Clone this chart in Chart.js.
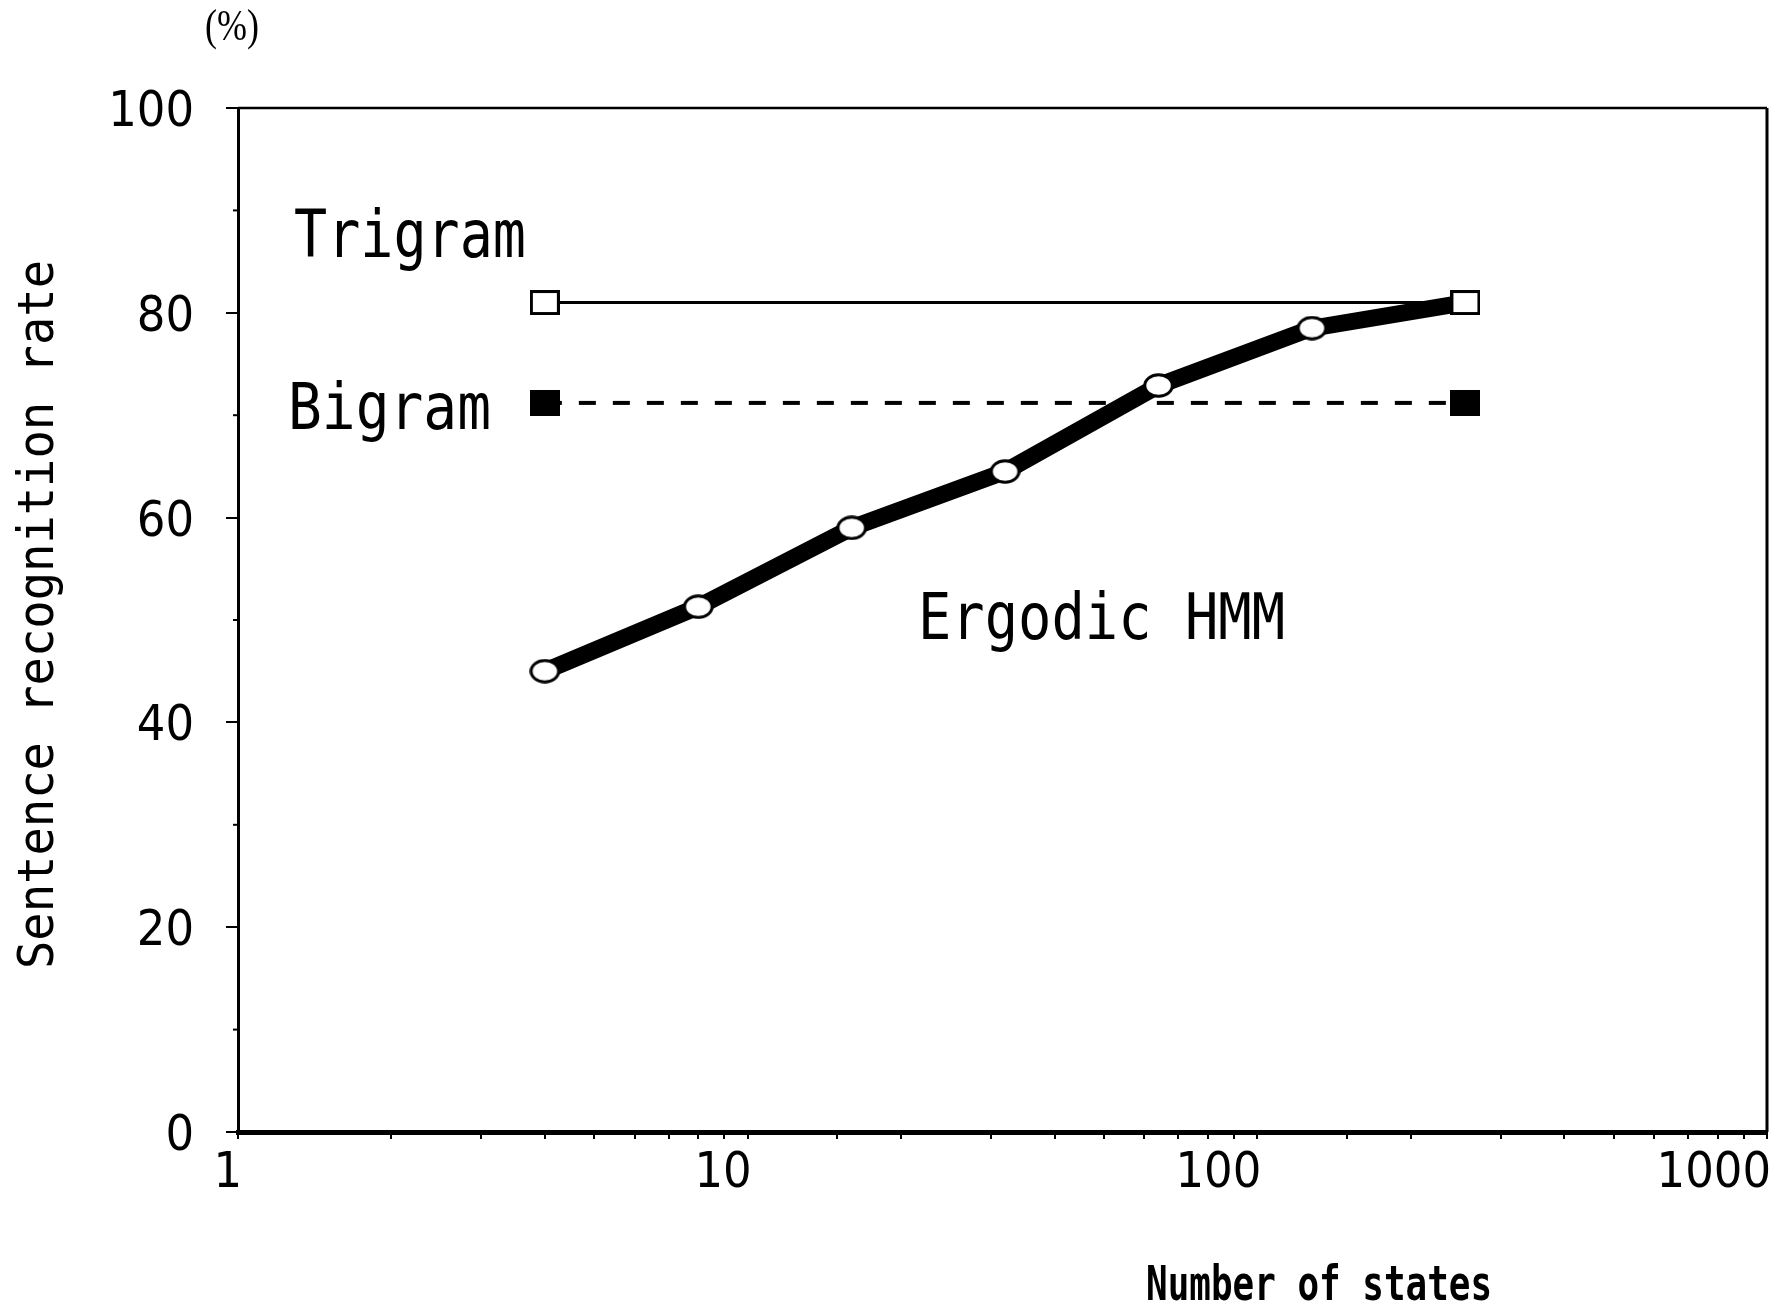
<!DOCTYPE html>
<html>
<head>
<meta charset="utf-8">
<title>Sentence recognition rate vs number of states</title>
<script src="https://cdn.jsdelivr.net/npm/chart.js@4.4.0/dist/chart.umd.min.js"></script>
<style>
  html, body { margin: 0; padding: 0; background: #fff; }
  #wrap { width: 1788px; height: 1305px; }
</style>
</head>
<body>
<div id="wrap"><canvas id="chart" width="1788" height="1305"></canvas></div>
<script>
// data
const states = [4, 8, 16, 32, 64, 128, 256];
const ergodicHmm = [45.0, 51.3, 59.0, 64.5, 72.9, 78.5, 81.0];
const ngramStates = [4, 256];
const trigram = [81.0, 81.0];
const bigram = [71.2, 71.2];
const yTicks = [0, 20, 40, 60, 80, 100];
const xTickLabels = [1, 10, 100, 1000];

const tickFont = "'DejaVu Sans Condensed', 'Liberation Sans Narrow', sans-serif";
const monoFont = "'DejaVu Sans Mono', monospace";

// markers in the original are a little wider than tall, so build them as images
function makeMarker(w, h, draw) {
  const c = document.createElement('canvas');
  c.width = w;
  c.height = h;
  draw(c.getContext('2d'), w, h);
  return c;
}
const openSquare = makeMarker(30, 25, (g, w, h) => {
  g.fillStyle = '#fff';
  g.fillRect(0, 0, w, h);
  g.strokeStyle = '#000';
  g.lineWidth = 3;
  g.strokeRect(1.5, 1.5, w - 3, h - 3);
});
const filledSquare = makeMarker(30, 26, (g, w, h) => {
  g.fillStyle = '#000';
  g.fillRect(0, 0, w, h);
});
const openEllipse = makeMarker(31, 25, (g, w, h) => {
  g.beginPath();
  g.ellipse(w / 2, h / 2, w / 2 - 1.75, h / 2 - 1.75, 0, 0, Math.PI * 2);
  g.fillStyle = '#fff';
  g.fill();
  g.lineWidth = 3;
  g.strokeStyle = '#000';
  g.stroke();
});

const toPoints = (xs, ys) => xs.map((x, i) => ({ x: x, y: ys[i] }));

// draw text squeezed/stretched to a given width (the original uses a narrow gothic face)
function fitText(ctx, text, x, y, font, width, rotate) {
  ctx.save();
  ctx.font = font;
  const w = ctx.measureText(text).width;
  ctx.translate(x, y);
  if (rotate) ctx.rotate(rotate);
  ctx.scale(width / w, 1);
  ctx.fillStyle = '#000';
  ctx.textAlign = 'left';
  ctx.textBaseline = 'alphabetic';
  ctx.fillText(text, 0, 0);
  ctx.restore();
}

const decorations = {
  id: 'decorations',
  afterDraw(chart) {
    const ctx = chart.ctx;
    const area = chart.chartArea;
    const yScale = chart.scales.y;

    ctx.save();
    ctx.strokeStyle = '#000';
    // top and right frame
    ctx.lineWidth = 2.5;
    ctx.beginPath();
    ctx.moveTo(area.left, area.top);
    ctx.lineTo(area.right, area.top);
    ctx.stroke();
    ctx.lineWidth = 3;
    ctx.beginPath();
    ctx.moveTo(area.right, area.top);
    ctx.lineTo(area.right, area.bottom);
    ctx.stroke();
    // minor y ticks between the labelled ones
    ctx.lineWidth = 2;
    for (let i = 0; i < yTicks.length - 1; i++) {
      const py = yScale.getPixelForValue((yTicks[i] + yTicks[i + 1]) / 2);
      ctx.beginPath();
      ctx.moveTo(area.left - 5, py);
      ctx.lineTo(area.left, py);
      ctx.stroke();
    }
    ctx.restore();

    // labels
    fitText(ctx, 'Trigram', 294, 257, '66px ' + monoFont, 232);
    fitText(ctx, 'Bigram', 288, 429, '64px ' + monoFont, 203);
    fitText(ctx, 'Ergodic HMM', 918, 639, '64px ' + monoFont, 367);
    fitText(ctx, 'Number of states', 1146, 1300, 'bold 48px ' + monoFont, 346);
    fitText(ctx, 'Sentence recognition rate', 53, 969, '50px ' + monoFont, 709, -Math.PI / 2);
    fitText(ctx, '(%)', 205, 40, "44px 'Liberation Serif', serif", 54);
  }
};

new Chart(document.getElementById('chart'), {
  type: 'line',
  data: {
    datasets: [
      {
        label: 'Trigram',
        data: toPoints(ngramStates, trigram),
        borderColor: '#000',
        borderWidth: 3,
        pointStyle: openSquare,
        order: 0
      },
      {
        label: 'Ergodic HMM',
        data: toPoints(states, ergodicHmm),
        borderColor: '#000',
        borderWidth: 17,
        pointStyle: (c) => c.dataIndex === states.length - 1 ? false : openEllipse,
        order: 1
      },
      {
        label: 'Bigram',
        data: toPoints(ngramStates, bigram),
        borderColor: '#000',
        borderWidth: 4,
        borderDash: [17, 17],
        pointStyle: filledSquare,
        order: 2
      }
    ]
  },
  options: {
    responsive: false,
    animation: false,
    events: [],
    layout: { padding: { left: 0, top: 108, right: 18, bottom: 0 } },
    elements: { line: { tension: 0 } },
    plugins: {
      legend: { display: false },
      tooltip: { enabled: false }
    },
    scales: {
      x: {
        type: 'logarithmic',
        min: 1,
        max: 1000,
        border: { display: true, color: '#000', width: 5 },
        grid: { drawOnChartArea: false, drawTicks: true, tickLength: 7, color: '#000', lineWidth: 2 },
        ticks: {
          autoSkip: false,
          maxRotation: 0,
          align: 'end',
          labelOffset: 4,
          padding: 5,
          color: '#000',
          font: { family: tickFont, size: 50 },
          callback: (v) => xTickLabels.includes(v) ? String(v) : ''
        },
        afterFit: (s) => { s.height = 173; s.paddingLeft = 0; s.paddingRight = 0; }
      },
      y: {
        min: yTicks[0],
        max: yTicks[yTicks.length - 1],
        border: { display: true, color: '#000', width: 3 },
        grid: { drawOnChartArea: false, drawTicks: true, tickLength: 12, color: '#000', lineWidth: 2 },
        afterBuildTicks: (s) => { s.ticks = yTicks.map(v => ({ value: v })); },
        ticks: {
          padding: 32,
          labelOffset: 5,
          color: '#000',
          font: { family: tickFont, size: 50 }
        },
        afterFit: (s) => { s.width = 238; s.paddingTop = 0; s.paddingBottom = 0; }
      }
    }
  },
  plugins: [decorations]
});
</script>
</body>
</html>
